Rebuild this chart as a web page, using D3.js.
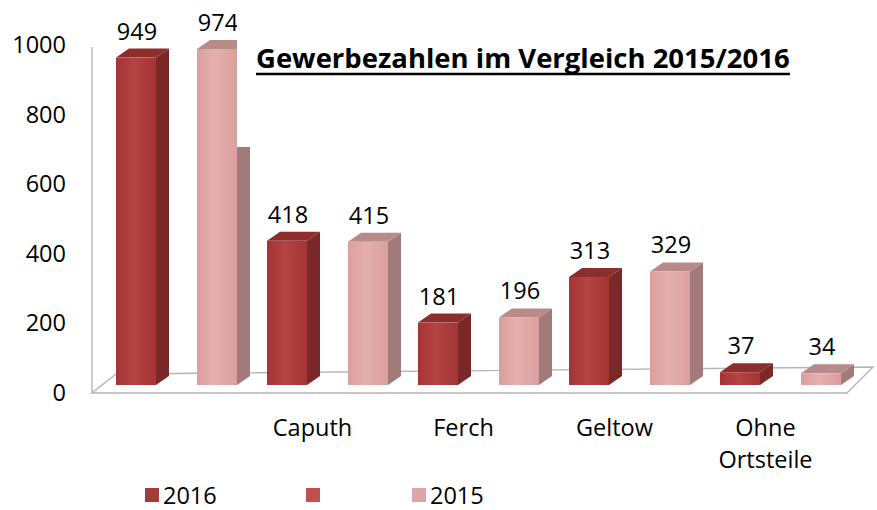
<!DOCTYPE html>
<html><head><meta charset="utf-8">
<script src="https://cdn.jsdelivr.net/npm/d3@7"></script>
<style>body{margin:0;background:#fff;overflow:hidden} text{font-family:"Open Sans",sans-serif}</style>
</head><body>
<svg id="c" width="877" height="510"></svg>
<script>
const categories = ["", "Caputh", "Ferch", "Geltow", "Ohne Ortsteile"];
const series = ["2016", "2015"];
const values2016 = [949, 418, 181, 313, 37];
const values2015 = [974, 415, 196, 329, 34];
const yTicks = [0, 200, 400, 600, 800, 1000];
const legendLabels = ["2016", "", "2015"];
const title = "Gewerbezahlen im Vergleich 2015/2016";

const svg = d3.select("#c");
const W = 877, H = 510;
const FS = 23.5;
svg.append("rect").attr("width", W).attr("height", H).attr("fill", "#fff");

const defs = svg.append("defs");
function grad(id, edge, mid) {
  const g = defs.append("linearGradient").attr("id", id).attr("x1", "0").attr("x2", "1").attr("y1", "0").attr("y2", "0");
  g.append("stop").attr("offset", "0").attr("stop-color", edge);
  g.append("stop").attr("offset", "0.45").attr("stop-color", mid);
  g.append("stop").attr("offset", "1").attr("stop-color", edge);
}
grad("gDark", "#A33535", "#B44343");
grad("gPink", "#DA9F9E", "#E4B0AF");

const style = {
  "2016": {front: "url(#gDark)", side: "#7B2828", top: "#8C2E2E"},
  "2015": {front: "url(#gPink)", side: "#A37A7A", top: "#B88A8A"}
};

const x = d3.scaleBand().domain(categories).range([86, 841]);
const x1 = d3.scaleBand().domain(series).range([-45.5, 75.5]).paddingInner(41 / 81).paddingOuter(0);
const yBar = d3.scaleLinear().domain([0, 1000]).range([385, 40]);
const yAx = d3.scaleLinear().domain([0, 1000]).range([393, 45]);
const dx = 13, dy = -9;

// floor & wall edge
const floor = svg.append("g").attr("fill", "none").attr("stroke", "#B5B5B5").attr("stroke-width", 1.4);
floor.append("path").attr("d", "M92,393 L847,393 L873,367 L116,374 Z").attr("fill", "#fff");
floor.append("line").attr("x1", 92).attr("x2", 92).attr("y1", 47).attr("y2", 393);

const data = [];
categories.forEach((c, i) => {
  data.push({cat: c, s: "2016", v: values2016[i]});
  data.push({cat: c, s: "2015", v: values2015[i]});
});

const bars = svg.append("g");
data.forEach(d => {
  const cx = x(d.cat) + x.bandwidth() / 2;
  const x0 = cx + x1(d.s), w = x1.bandwidth();
  const y0 = yBar(0), yt = yBar(d.v);
  const st = style[d.s];
  const g = bars.append("g");
  g.append("path").attr("fill", st.side)
    .attr("d", `M${x0 + w},${yt} L${x0 + w + dx},${yt + dy} L${x0 + w + dx},${y0 + dy} L${x0 + w},${y0} Z`);
  g.append("path").attr("fill", st.top)
    .attr("d", `M${x0},${yt} L${x0 + dx},${yt + dy} L${x0 + w + dx},${yt + dy} L${x0 + w},${yt} Z`);
  g.append("rect").attr("x", x0).attr("y", yt).attr("width", w).attr("height", y0 - yt).attr("fill", st.front);
});

// value labels
svg.append("g").selectAll("text").data(data).join("text")
  .attr("x", d => x(d.cat) + x.bandwidth() / 2 + x1(d.s) + x1.bandwidth() / 2 + 1)
  .attr("y", d => yBar(d.v) + dy - 9)
  .attr("text-anchor", "middle").attr("font-size", FS).attr("fill", "#000")
  .text(d => d.v);

// title box
svg.append("rect").attr("x", 237).attr("y", 24).attr("width", 575).attr("height", 123).attr("fill", "#fff");
const t = svg.append("text").attr("x", 256).attr("y", 68).attr("font-weight", "bold").attr("font-size", 25).attr("fill", "#000").text(title);
const targetW = 534;
const len = t.node().getComputedTextLength();
t.attr("font-size", 25 * targetW / len);
svg.append("line").attr("x1", 256).attr("x2", 256 + targetW).attr("y1", 74).attr("y2", 74).attr("stroke", "#000").attr("stroke-width", 2.5);

// y axis
const ya = svg.append("g").attr("transform", "translate(66,0)")
  .call(d3.axisLeft(yAx).tickValues(yTicks).tickSize(0).tickPadding(0).tickFormat(d3.format("d")));
ya.select(".domain").remove();
ya.selectAll("text").attr("font-size", FS).attr("fill", "#000").attr("font-family", "'Open Sans',sans-serif");

// x axis labels
const xa = svg.append("g").attr("transform", "translate(0,428)")
  .call(d3.axisBottom(x).tickSize(0).tickPadding(0));
xa.select(".domain").remove();
xa.selectAll("text").attr("font-size", FS).attr("fill", "#000").attr("font-family", "'Open Sans',sans-serif")
  .attr("dy", "0.35em")
  .each(function(d) {
    const words = d.split(" ");
    if (words.length > 1) {
      const el = d3.select(this); el.text(null);
      words.forEach((wd, i) => el.append("tspan").attr("x", 0).attr("dy", i === 0 ? "0.35em" : "1.35em").text(wd));
      el.attr("dy", null);
    }
  });

// legend
const legColors = ["#A33B3B", "#C0504D", "#DDA5A4"];
const legX = [145, 306, 412];
const lg = svg.append("g");
legendLabels.forEach((lab, i) => {
  lg.append("rect").attr("x", legX[i]).attr("y", 488).attr("width", 14).attr("height", 14).attr("fill", legColors[i]);
  lg.append("text").attr("x", legX[i] + 18).attr("y", 504).attr("font-size", FS).attr("fill", "#000").text(lab);
});
</script>
</body></html>
